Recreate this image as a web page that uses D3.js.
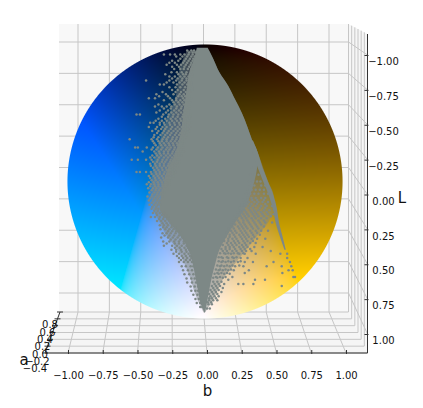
<!DOCTYPE html>
<meta charset="utf-8">
<style>
body { margin: 0; background: #fff; }
text { font-family: "DejaVu Sans", sans-serif; fill: #111; }
.grid { stroke: #c6c6c6; stroke-width: 1; fill: none; }
.axis-line { stroke: #333; stroke-width: 1; fill: none; }
.dot { fill: #7d8886; }
.core { fill: #7d8886; stroke: none; }
.haze { fill: #7d8886; fill-opacity: 0.5; stroke: none; }
</style>
<body>
<script src="https://d3js.org/d3.v7.min.js"></script>
<script>
// tick values of the three axes
var bTicks = [-1, -0.75, -0.5, -0.25, 0, 0.25, 0.5, 0.75, 1];
var lTicks = [-1, -0.75, -0.5, -0.25, 0, 0.25, 0.5, 0.75, 1];
var aTicks = [-0.4, -0.2, 0, 0.2, 0.4, 0.6, 0.8];

// dense part of the cloud: b limits for each L level
var coreL =     [-0.98, -0.9, -0.8, -0.7, -0.6, -0.5, -0.4, -0.3, -0.2, -0.1, 0, 0.1, 0.2, 0.3, 0.4, 0.5, 0.6, 0.7, 0.8, 0.9, 0.96];
var coreLeft =  [-0.06, -0.08, -0.115, -0.13, -0.145, -0.16, -0.17, -0.19, -0.22, -0.27, -0.3, -0.32, -0.33, -0.26, -0.18, -0.12, -0.09, -0.07, -0.05, -0.03, -0.005];
var coreRight = [0.02, 0.06, 0.105, 0.17, 0.22, 0.27, 0.31, 0.345, 0.385, 0.38, 0.36, 0.33, 0.29, 0.22, 0.16, 0.105, 0.075, 0.05, 0.03, 0.012, 0];

// thinner cover around the core, where the points do not quite touch
var hazeL =     [-0.96, -0.9, -0.8, -0.7, -0.6, -0.5, -0.4, -0.3, -0.2, -0.1, 0, 0.1, 0.2, 0.3, 0.4, 0.5, 0.6, 0.7, 0.8, 0.9, 0.96];
var hazeLeft =  [-0.13, -0.16, -0.19, -0.2, -0.22, -0.26, -0.3, -0.33, -0.36, -0.38, -0.39, -0.39, -0.38, -0.33, -0.28, -0.2, -0.15, -0.11, -0.08, -0.04, -0.01];
var hazeRight = [0.03, 0.06, 0.105, 0.17, 0.22, 0.27, 0.31, 0.345, 0.39, 0.425, 0.46, 0.5, 0.5, 0.46, 0.38, 0.3, 0.22, 0.14, 0.09, 0.04, 0];

// thin streak along the right edge
var bandL =     [-0.3, -0.2, -0.1, 0, 0.1, 0.2, 0.3, 0.4, 0.5];
var bandLeft =  [0.33, 0.35, 0.385, 0.425, 0.465, 0.495, 0.515, 0.545, 0.58];
var bandRight = [0.35, 0.39, 0.42, 0.46, 0.5, 0.525, 0.54, 0.565, 0.59];

// loose points, left of the core
var leftL = [-0.96, -0.93, -0.9, -0.87, -0.84, -0.8, -0.77, -0.74, -0.71, -0.67, -0.64, -0.61, -0.58, -0.55, -0.52, -0.49, -0.46, -0.43, -0.4, -0.37, -0.34, -0.31, -0.28, -0.25, -0.22, -0.19, -0.16, -0.13, -0.1, -0.07, -0.04, -0.01, 0.02, 0.05, 0.08, 0.11, 0.14, 0.17, 0.2, 0.23, 0.26, 0.29, 0.32, 0.35, 0.38, 0.41, 0.44, 0.47, 0.5, 0.53, 0.56, 0.59, 0.62, 0.65, 0.68, 0.71, 0.74, 0.77, 0.8, 0.83, 0.86, 0.89, 0.92];
var leftB = [
  [-0.13, -0.1, -0.08],
  [-0.3, -0.255, -0.22, -0.18, -0.15, -0.12, -0.09],
  [-0.18, -0.14, -0.11, -0.085],
  [-0.26, -0.22, -0.16, -0.13, -0.1],
  [-0.24, -0.19, -0.15, -0.115, -0.09],
  [-0.245, -0.205, -0.17, -0.135, -0.1],
  [-0.26, -0.22, -0.18, -0.15, -0.12, -0.095],
  [-0.43, -0.26, -0.21, -0.17, -0.135, -0.105],
  [-0.33, -0.3, -0.205, -0.165, -0.13, -0.1],
  [-0.24, -0.2, -0.155, -0.125, -0.095],
  [-0.355, -0.285, -0.23, -0.185, -0.155, -0.12],
  [-0.41, -0.365, -0.255, -0.21, -0.16, -0.13, -0.1],
  [-0.23, -0.195, -0.165, -0.135, -0.11],
  [-0.365, -0.315, -0.28, -0.245, -0.205, -0.17, -0.14, -0.11],
  [-0.33, -0.27, -0.225, -0.19, -0.155, -0.125],
  [-0.5, -0.475, -0.305, -0.265, -0.23, -0.195, -0.16, -0.13, -0.105],
  [-0.34, -0.29, -0.25, -0.215, -0.18, -0.145, -0.115],
  [-0.4, -0.375, -0.33, -0.3, -0.26, -0.225, -0.19, -0.16, -0.13, -0.1],
  [-0.41, -0.35, -0.31, -0.28, -0.24, -0.2, -0.17, -0.14, -0.11],
  [-0.385, -0.34, -0.3, -0.265, -0.23, -0.2, -0.17, -0.14, -0.115],
  [-0.37, -0.325, -0.29, -0.255, -0.22, -0.19, -0.16, -0.135],
  [-0.55, -0.39, -0.35, -0.31, -0.28, -0.24, -0.21, -0.18, -0.15],
  [-0.37, -0.33, -0.3, -0.265, -0.235, -0.205, -0.175, -0.15],
  [-0.51, -0.49, -0.425, -0.38, -0.345, -0.31, -0.275, -0.25, -0.22, -0.19, -0.16],
  [-0.455, -0.37, -0.335, -0.3, -0.27, -0.235, -0.21, -0.18, -0.155],
  [-0.385, -0.35, -0.32, -0.285, -0.255, -0.225, -0.195, -0.17],
  [-0.535, -0.49, -0.43, -0.39, -0.345, -0.31, -0.28, -0.25, -0.22, -0.19],
  [-0.4, -0.365, -0.33, -0.3, -0.265, -0.24, -0.21, -0.185],
  [-0.38, -0.35, -0.315, -0.285, -0.255, -0.225, -0.2],
  [-0.5, -0.475, -0.43, -0.395, -0.36, -0.33, -0.295, -0.27, -0.24, -0.215],
  [-0.41, -0.375, -0.345, -0.315, -0.285, -0.255, -0.23],
  [-0.39, -0.36, -0.325, -0.3, -0.27, -0.245],
  [-0.425, -0.395, -0.37, -0.34, -0.31, -0.285, -0.26],
  [-0.415, -0.38, -0.355, -0.325, -0.3, -0.275],
  [-0.405, -0.37, -0.345, -0.32, -0.295],
  [-0.42, -0.39, -0.36, -0.335, -0.31],
  [-0.41, -0.38, -0.35, -0.33],
  [-0.405, -0.37, -0.345, -0.325],
  [-0.39, -0.36, -0.34],
  [-0.38, -0.355, -0.33, -0.3],
  [-0.395, -0.365, -0.33, -0.3, -0.27],
  [-0.35, -0.32, -0.29, -0.26],
  [-0.33, -0.3, -0.27, -0.24],
  [-0.325, -0.29, -0.26, -0.23, -0.2],
  [-0.31, -0.28, -0.25, -0.215],
  [-0.32, -0.27, -0.235, -0.2, -0.165],
  [-0.305, -0.26, -0.225, -0.19, -0.155],
  [-0.3, -0.24, -0.205, -0.17, -0.135],
  [-0.245, -0.21, -0.175, -0.14, -0.115],
  [-0.23, -0.19, -0.15, -0.12],
  [-0.19, -0.16, -0.13, -0.1],
  [-0.19, -0.155, -0.125, -0.095],
  [-0.17, -0.14, -0.105, -0.085],
  [-0.16, -0.125, -0.095],
  [-0.15, -0.115, -0.085],
  [-0.135, -0.1, -0.075],
  [-0.13, -0.095, -0.065],
  [-0.105, -0.075, -0.05],
  [-0.1, -0.07, -0.05],
  [-0.085, -0.055],
  [-0.07, -0.045],
  [-0.06, -0.035],
  [-0.035, -0.02]
];

// second pass over the same side, rows in between the first ones
var left2L = [-0.945, -0.915, -0.885, -0.855, -0.825, -0.785, -0.755, -0.725, -0.69, -0.655, -0.625, -0.595, -0.565, -0.535, -0.505, -0.475, -0.445, -0.415, -0.385, -0.355, -0.325, -0.295, -0.265, -0.235, -0.205, -0.175, -0.145, -0.115, -0.085, -0.055, -0.025, 0.005, 0.035, 0.065, 0.095, 0.125, 0.155, 0.185, 0.215, 0.245, 0.275, 0.305, 0.335, 0.365, 0.395, 0.425, 0.455, 0.485, 0.515, 0.545, 0.575];
var left2B = [
  [-0.115, -0.09, -0.07],
  [-0.21, -0.165, -0.13, -0.1, -0.075],
  [-0.24, -0.195, -0.15, -0.12, -0.09],
  [-0.28, -0.205, -0.175, -0.14, -0.105, -0.08],
  [-0.225, -0.18, -0.155, -0.125, -0.1, -0.085],
  [-0.29, -0.195, -0.16, -0.14, -0.11, -0.09],
  [-0.24, -0.2, -0.165, -0.135, -0.105],
  [-0.28, -0.23, -0.185, -0.15, -0.12, -0.1],
  [-0.26, -0.215, -0.18, -0.145, -0.115, -0.09],
  [-0.31, -0.215, -0.175, -0.14, -0.11],
  [-0.335, -0.27, -0.195, -0.17, -0.145, -0.115],
  [-0.3, -0.24, -0.21, -0.18, -0.15, -0.12],
  [-0.34, -0.26, -0.22, -0.185, -0.155, -0.125],
  [-0.3, -0.25, -0.21, -0.175, -0.145, -0.115],
  [-0.355, -0.285, -0.245, -0.21, -0.175, -0.145, -0.12],
  [-0.315, -0.27, -0.235, -0.2, -0.165, -0.135, -0.11],
  [-0.36, -0.315, -0.28, -0.24, -0.205, -0.175, -0.145, -0.12],
  [-0.33, -0.295, -0.255, -0.22, -0.185, -0.155, -0.125],
  [-0.36, -0.32, -0.29, -0.25, -0.215, -0.185, -0.155, -0.125],
  [-0.35, -0.31, -0.275, -0.245, -0.21, -0.18, -0.15],
  [-0.375, -0.34, -0.3, -0.27, -0.235, -0.205, -0.175, -0.145],
  [-0.38, -0.34, -0.315, -0.28, -0.25, -0.22, -0.19, -0.165],
  [-0.36, -0.32, -0.29, -0.26, -0.23, -0.2, -0.17],
  [-0.39, -0.355, -0.32, -0.285, -0.26, -0.225, -0.2, -0.175],
  [-0.36, -0.33, -0.3, -0.27, -0.24, -0.215, -0.19],
  [-0.4, -0.37, -0.335, -0.3, -0.27, -0.24, -0.21],
  [-0.38, -0.35, -0.315, -0.29, -0.255, -0.23, -0.2],
  [-0.395, -0.36, -0.33, -0.3, -0.27, -0.24, -0.215],
  [-0.37, -0.34, -0.31, -0.28, -0.25, -0.225],
  [-0.39, -0.355, -0.33, -0.3, -0.265, -0.24],
  [-0.4, -0.365, -0.335, -0.305, -0.275, -0.25],
  [-0.41, -0.375, -0.345, -0.315, -0.285, -0.26],
  [-0.4, -0.365, -0.34, -0.31, -0.285],
  [-0.39, -0.36, -0.335, -0.31],
  [-0.385, -0.35, -0.325],
  [-0.4, -0.37, -0.345],
  [-0.39, -0.36, -0.335],
  [-0.385, -0.355],
  [-0.37, -0.345],
  [-0.35, -0.315, -0.285],
  [-0.335, -0.305, -0.275],
  [-0.31, -0.28, -0.25],
  [-0.305, -0.28, -0.245, -0.215],
  [-0.27, -0.24, -0.21, -0.18],
  [-0.295, -0.26, -0.225, -0.19],
  [-0.25, -0.215, -0.18, -0.15],
  [-0.28, -0.22, -0.19, -0.155],
  [-0.22, -0.185, -0.15, -0.125],
  [-0.21, -0.17, -0.135, -0.105],
  [-0.205, -0.17, -0.14, -0.11],
  [-0.175, -0.14, -0.11]
];

// loose points, right of the core
var rightL = [-0.1, -0.05, 0, 0.03, 0.06, 0.09, 0.12, 0.15, 0.18, 0.21, 0.24, 0.27, 0.3, 0.33, 0.36, 0.39, 0.42, 0.45, 0.48, 0.51, 0.53, 0.56, 0.59, 0.62, 0.65, 0.67, 0.7, 0.72, 0.75, 0.765, 0.78, 0.81, 0.84, 0.87, 0.9, 0.93];
var rightB = [
  [0.34, 0.37],
  [0.33, 0.36, 0.39],
  [0.32, 0.35, 0.38, 0.405],
  [0.33, 0.36, 0.41, 0.44],
  [0.31, 0.34, 0.37, 0.4, 0.43],
  [0.3, 0.33, 0.36, 0.39, 0.43, 0.46],
  [0.31, 0.34, 0.37, 0.41, 0.44],
  [0.29, 0.32, 0.36, 0.39, 0.42, 0.46],
  [0.27, 0.3, 0.33, 0.37, 0.41, 0.45, 0.49],
  [0.26, 0.29, 0.33, 0.36, 0.39, 0.43, 0.47],
  [0.25, 0.28, 0.31, 0.35, 0.38, 0.42, 0.46, 0.5],
  [0.23, 0.27, 0.3, 0.34, 0.37, 0.41, 0.45],
  [0.21, 0.25, 0.28, 0.32, 0.36, 0.4, 0.44, 0.49],
  [0.2, 0.24, 0.27, 0.3, 0.34, 0.38, 0.43],
  [0.19, 0.22, 0.26, 0.29, 0.33, 0.37, 0.41, 0.46],
  [0.18, 0.21, 0.25, 0.28, 0.31, 0.35, 0.4],
  [0.17, 0.2, 0.23, 0.27, 0.3, 0.34, 0.38, 0.44],
  [0.16, 0.19, 0.22, 0.25, 0.29, 0.33, 0.37],
  [0.15, 0.18, 0.21, 0.25, 0.28, 0.31, 0.36, 0.42],
  [0.13, 0.16, 0.2, 0.23, 0.27, 0.3, 0.34, 0.48],
  [0.15, 0.19, 0.25, 0.29, 0.37, 0.55, 0.6],
  [0.13, 0.17, 0.21, 0.26, 0.31, 0.6],
  [0.12, 0.15, 0.19, 0.24, 0.29, 0.35, 0.5, 0.62],
  [0.11, 0.14, 0.18, 0.22, 0.28, 0.45, 0.56, 0.63],
  [0.1, 0.13, 0.17, 0.21, 0.32, 0.61, 0.64],
  [0.09, 0.12, 0.16, 0.29, 0.565],
  [0.08, 0.11, 0.15, 0.2, 0.645, 0.657],
  [0.17, 0.365, 0.438],
  [0.07, 0.1, 0.14, 0.243, 0.28, 0.353],
  [0.56],
  [0.06, 0.09, 0.13],
  [0.05, 0.08, 0.12],
  [0.04, 0.07, 0.1],
  [0.03, 0.06, 0.09],
  [0.025, 0.05],
  [0.015, 0.035]
];

var right2L = [0.135, 0.165, 0.195, 0.225, 0.255, 0.285, 0.315, 0.345, 0.375, 0.405, 0.435, 0.465, 0.495, 0.525, 0.555, 0.585, 0.615, 0.645, 0.675, 0.705, 0.735, 0.765, 0.795, 0.825, 0.855, 0.885];
var right2B = [
  [0.28, 0.31, 0.345, 0.38, 0.43],
  [0.27, 0.31, 0.34, 0.38, 0.44],
  [0.25, 0.28, 0.32, 0.35, 0.4, 0.44],
  [0.24, 0.27, 0.3, 0.34, 0.37, 0.41, 0.45],
  [0.22, 0.26, 0.29, 0.32, 0.36, 0.39, 0.43, 0.48],
  [0.21, 0.24, 0.28, 0.31, 0.35, 0.39, 0.43],
  [0.19, 0.22, 0.26, 0.29, 0.33, 0.37, 0.41],
  [0.17, 0.21, 0.25, 0.28, 0.31, 0.35, 0.39],
  [0.16, 0.2, 0.23, 0.27, 0.3, 0.34, 0.38],
  [0.15, 0.18, 0.22, 0.26, 0.29, 0.32, 0.36],
  [0.14, 0.17, 0.21, 0.24, 0.28, 0.31, 0.35],
  [0.13, 0.17, 0.2, 0.23, 0.27, 0.3],
  [0.12, 0.15, 0.18, 0.22, 0.26, 0.29, 0.33],
  [0.11, 0.14, 0.17, 0.21, 0.24, 0.28],
  [0.1, 0.12, 0.16, 0.2, 0.23],
  [0.1, 0.13, 0.17, 0.21, 0.26],
  [0.09, 0.12, 0.16, 0.2, 0.25],
  [0.08, 0.11, 0.15, 0.19],
  [0.07, 0.1, 0.14, 0.18],
  [0.06, 0.09, 0.13],
  [0.06, 0.09, 0.12],
  [0.05, 0.08, 0.11],
  [0.04, 0.07, 0.1],
  [0.03, 0.06, 0.09],
  [0.03, 0.05, 0.08],
  [0.02, 0.045]
];

var width = 423, height = 408;

var svg = d3.select("body").append("svg")
    .attr("width", width)
    .attr("height", height)
    .style("display", "block");

// back wall and front edge scales
var bBack = d3.scaleLinear().domain([-1, 1]).range([78, 329]);
var bFront = d3.scaleLinear().domain([-1, 1]).range([68, 346]);
var lBack = d3.scaleLinear().domain([-1, 1]).range([42, 293]);
var lFront = d3.scaleLinear().domain([-1, 1]).range([55, 334]);

// the a axis runs from the front edge to the back wall
var aFloorY = d3.scaleLinear().domain([-0.4, 0.8]).range([353, 312]);
var aWallX = d3.scaleLinear().domain([-0.4, 0.8]).range([367.5, 348.5]);
var aLeftX = d3.scaleLinear().domain([-0.4, 0.8]).range([45, 60]);
var aTopY = d3.scaleLinear().domain([-0.4, 0.8]).range([34, 24]);

// the slice itself
var bPlane = d3.scaleLinear().domain([-1, 1]).range([68, 342]);
var lPlane = d3.scaleLinear().domain([-1, 1]).range([45, 318]);
var labL = d3.scaleLinear().domain([-1, 1]).range([0, 100]);
var labB = d3.scaleLinear().domain([-1, 1]).range([-128, 128]);

// panes
var panes = svg.append("g");
panes.append("polygon").attr("points", "59,24 348.5,24 348.5,312 59,312").attr("fill", "#f8f8f8");
panes.append("polygon").attr("points", "59,312 348.5,312 367.5,353 45,353").attr("fill", "#f5f5f5");
panes.append("polygon").attr("points", "348.5,24 367.5,34 367.5,353 348.5,312").attr("fill", "#f6f6f6");

// grid lines
var grid = svg.append("g").attr("class", "grid");
bTicks.forEach(function(d) {
  grid.append("line").attr("x1", bBack(d)).attr("x2", bBack(d)).attr("y1", 24).attr("y2", 312);
  grid.append("line").attr("x1", bBack(d)).attr("x2", bFront(d)).attr("y1", 312).attr("y2", 353);
});
lTicks.forEach(function(d) {
  grid.append("line").attr("x1", 59).attr("x2", 348.5).attr("y1", lBack(d)).attr("y2", lBack(d));
  grid.append("line").attr("x1", 348.5).attr("x2", 367.5).attr("y1", lBack(d)).attr("y2", lFront(d));
});
aTicks.forEach(function(d) {
  grid.append("line").attr("x1", aLeftX(d)).attr("x2", aWallX(d)).attr("y1", aFloorY(d)).attr("y2", aFloorY(d));
  grid.append("line").attr("x1", aWallX(d)).attr("x2", aWallX(d)).attr("y1", aTopY(d)).attr("y2", aFloorY(d));
});

// Lab to sRGB with a D65 white, d3.lab works from D50 and comes out too violet here
function gammaByte(v) {
  v = v <= 0.0031308 ? 12.92 * v : 1.055 * Math.pow(v, 1 / 2.4) - 0.055;
  return Math.max(0, Math.min(255, v * 255));
}
function finv(t) {
  return t > 6 / 29 ? t * t * t : 3 * (6 / 29) * (6 / 29) * (t - 4 / 29);
}
function labToRgb(l, a, b) {
  var fy = (l + 16) / 116;
  var X = 0.95047 * finv(fy + a / 500), Y = finv(fy), Z = 1.08883 * finv(fy - b / 200);
  return [
    gammaByte(3.2406 * X - 1.5372 * Y - 0.4986 * Z),
    gammaByte(-0.9689 * X + 1.8758 * Y + 0.0415 * Z),
    gammaByte(0.0557 * X - 0.204 * Y + 1.057 * Z)
  ];
}

// paint the slice pixel by pixel, then put it in the svg as an image
var canvas = document.createElement("canvas");
canvas.width = width;
canvas.height = height;
var ctx = canvas.getContext("2d");
var img = ctx.createImageData(width, height);
for (var py = 40; py < 325; py++) {
  for (var px = 60; px < 350; px++) {
    var b = bPlane.invert(px + 0.5), L = lPlane.invert(py + 0.5);
    var r = Math.sqrt(b * b + L * L);
    if (r > 1.01) continue;
    var c = labToRgb(labL(L), 3, labB(b));
    var i = (py * width + px) * 4;
    img.data[i] = c[0];
    img.data[i + 1] = c[1];
    img.data[i + 2] = c[2];
    img.data[i + 3] = Math.min(1, (1.004 - r) * 137 + 0.5) * 255;
  }
}
ctx.putImageData(img, 0, 0);
svg.append("image")
    .attr("width", width)
    .attr("height", height)
    .attr("href", canvas.toDataURL());

// the cloud
function bandArea(levels, lo, hi) {
  return d3.area()
    .y(function(d, i) { return lPlane(levels[i]); })
    .x0(function(d, i) { return bPlane(lo[i]); })
    .x1(function(d, i) { return bPlane(hi[i]); })
    .curve(d3.curveMonotoneY)(levels);
}
svg.append("path").attr("class", "haze").attr("d", bandArea(hazeL, hazeLeft, hazeRight));
svg.append("path").attr("class", "core").attr("d", bandArea(coreL, coreLeft, coreRight));
svg.append("path").attr("class", "core").attr("d", bandArea(bandL, bandLeft, bandRight));

var points = [];
function addRows(levels, rows) {
  levels.forEach(function(L, i) {
    rows[i].forEach(function(b) { points.push({b: b, L: L}); });
  });
}
addRows(leftL, leftB);
addRows(left2L, left2B);
addRows(rightL, rightB);
addRows(right2L, right2B);

svg.append("g").selectAll("circle")
    .data(points)
  .enter().append("circle")
    .attr("class", "dot")
    .attr("cx", function(d) { return bPlane(d.b); })
    .attr("cy", function(d) { return lPlane(d.L); })
    .attr("r", 1.25);

// axis lines
var axes = svg.append("g").attr("class", "axis-line");
axes.append("line").attr("x1", 45).attr("x2", 367.5).attr("y1", 353).attr("y2", 353);
axes.append("line").attr("x1", 367.5).attr("x2", 367.5).attr("y1", 34).attr("y2", 353);
axes.append("line").attr("x1", 45).attr("x2", 60).attr("y1", 353).attr("y2", 312);

// b axis
var fmt = d3.format(".2f");
var xAxis = svg.append("g")
    .attr("transform", "translate(0,353)")
    .call(d3.axisBottom(bFront).tickValues(bTicks).tickFormat(fmt).tickSize(0));
xAxis.select(".domain").remove();
xAxis.selectAll(".tick line").attr("y1", -3).attr("y2", 1).attr("stroke", "#333");
xAxis.selectAll(".tick text").attr("y", 23).attr("dy", "0.32em").attr("font-size", 10);

// L axis, labels sit a little below their ticks and are centred
var zAxis = svg.append("g")
    .attr("transform", "translate(367.5,0)")
    .call(d3.axisRight(lFront).tickValues(lTicks).tickFormat(fmt).tickSize(0));
zAxis.select(".domain").remove();
zAxis.selectAll(".tick line").attr("x1", -3).attr("x2", 1).attr("stroke", "#333");
zAxis.selectAll(".tick text")
    .attr("x", 16).attr("y", 6.5).attr("dy", "0.32em")
    .attr("font-size", 10)
    .style("text-anchor", "middle");

// a axis
var aLabelX = d3.scaleLinear().domain([-0.4, 0.8]).range([35, 50]);
var aLabelY = d3.scaleLinear().domain([-0.4, 0.8]).range([369, 325]);
var aAxis = svg.append("g");
aAxis.selectAll("line")
    .data(aTicks)
  .enter().append("line")
    .attr("x1", function(d) { return aLeftX(d) - 3; })
    .attr("x2", function(d) { return aLeftX(d) + 3; })
    .attr("y1", aFloorY)
    .attr("y2", aFloorY)
    .attr("stroke", "#333");
aAxis.selectAll("text")
    .data(aTicks)
  .enter().append("text")
    .attr("x", aLabelX)
    .attr("y", aLabelY)
    .attr("dy", "0.32em")
    .attr("font-size", 10)
    .style("text-anchor", "middle")
    .text(d3.format(".1f"));

// axis names
svg.append("text").attr("x", 207.5).attr("y", 391).attr("dy", "0.32em").attr("font-size", 15).style("text-anchor", "middle").text("b");
svg.append("text").attr("x", 402).attr("y", 198).attr("dy", "0.32em").attr("font-size", 15).style("text-anchor", "middle").text("L");
svg.append("text").attr("x", 24).attr("y", 360).attr("dy", "0.32em").attr("font-size", 15).style("text-anchor", "middle").text("a");
</script>
</body>
